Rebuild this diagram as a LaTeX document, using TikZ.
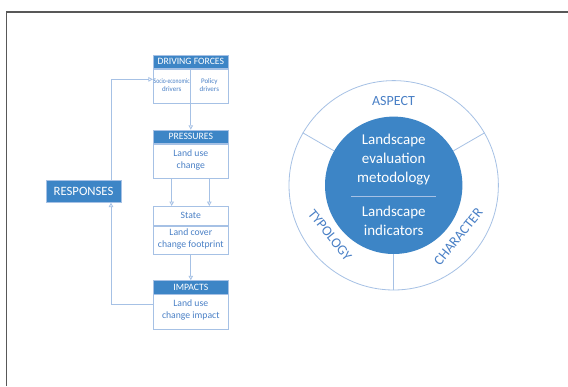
\documentclass[tikz,border=0pt]{standalone}
\usepackage{fontspec}
\setmainfont{Carlito}
\usetikzlibrary{arrows.meta,calc}
\definecolor{hblue}{HTML}{3D85C6}
\definecolor{tblue}{HTML}{4A80C6}
\definecolor{lblue}{HTML}{A6C1E5}
\definecolor{frame}{HTML}{585858}
\tikzset{
  hdr/.style={rectangle, fill=hblue, draw=lblue, line width=0.6pt, text=white, minimum width=75pt, minimum height=13.3pt, inner sep=0pt, font=\fontsize{9.7}{11}\selectfont},
  bodybox/.style={rectangle, draw=lblue, line width=0.8pt, fill=white, minimum width=75pt, inner sep=0pt, anchor=north},
  btxt/.style={text=tblue, align=center, inner sep=0pt, font=\fontsize{9.7}{11.7}\selectfont},
  stxt/.style={text=tblue, align=center, inner sep=0pt, font=\fontsize{7}{8.6}\selectfont},
  arr/.style={draw=lblue, line width=0.8pt, -{Triangle[open,length=4.5pt,width=4.5pt]}},
  ringtxt/.style={text=tblue, inner sep=0pt, font=\fontsize{14}{16}\selectfont},
}
\begin{document}
\begin{tikzpicture}[x=1pt,y=-1pt]
\useasboundingbox (0,0) rectangle (568,386);
\fill[white] (0,0) rectangle (568,386);
% frame
\draw[frame, line width=1.6pt] (6.5,386) -- (6.5,12) -- (568,12);

% DRIVING FORCES
\node[hdr] (df) at (190.8,61.7) {DRIVING FORCES};
\node[bodybox, minimum height=34.4pt] (dfb) at (df.south) {};
\node[stxt] (se) at (171.7,85) {\scalebox{0.8}[1]{Socio-economic}\\drivers};
\node[stxt] (pd) at (209.3,85) {Policy\\drivers};

% PRESSURES
\node[hdr] (pr) at (190.8,136.7) {PRESSURES};
\node[bodybox, minimum height=34pt] (prb) at (pr.south) {};
\node[btxt] (prt) at (190.8,160) {Land use\\change};

% STATE
\node[bodybox, minimum height=18.7pt] (st) at (190.8,206) {};
\node[btxt] (stt) at (st.center) {State};
\node[bodybox, minimum height=28.3pt] (stb) at (st.south) {};
\node[btxt] (stbt) at (190.8,238.7) {Land cover\\change footprint};

% IMPACTS
\node[hdr] (ip) at (190.8,287.2) {IMPACTS};
\node[bodybox, minimum height=34.6pt] (ipb) at (ip.south) {};
\node[btxt] (ipt) at (190.8,309.9) {Land use\\change impact};

% RESPONSES
\node[hdr, minimum height=21.6pt, font=\fontsize{12.7}{14}\selectfont] (rs) at (83.5,191.5) {RESPONSES};

% connectors
\draw[draw=lblue, line width=0.8pt] (df.south) -- (dfb.south);
\draw[arr] (dfb.south) -- (pr.north);
\draw[arr] ($(prb.south)+(-19.1,0)$) -- ($(st.north)+(-19.1,0)$);
\draw[arr] ($(prb.south)+(18.5,0)$) -- ($(st.north)+(18.5,0)$);
\draw[arr] (stb.south) -- (ip.north);
\draw[arr] ($(ipb.north west)+(0,10.3)$) -| ($(rs.south east)+(-10.3,0)$);
\draw[arr] ($(rs.north east)+(-10.3,0)$) |- ($(dfb.north west)+(0,10.7)$);

% circle diagram
\node[circle, draw=lblue, line width=0.8pt, minimum size=209.4pt, inner sep=0pt] (outer) at (393.7,185.3) {};
\node[circle, fill=hblue, minimum size=137.4pt, inner sep=0pt] (inner) at (393.7,185.3) {};
\draw[lblue, line width=0.8pt] (outer.30) -- (inner.30);
\draw[lblue, line width=0.8pt] (outer.150) -- (inner.150);
\draw[lblue, line width=0.8pt] (outer.270) -- (inner.270);
\node[ringtxt] (asp) at (393.5,100.7) {ASPECT};
\node[ringtxt, rotate=-51] (typ) at (330,235) {TYPOLOGY};
\node[ringtxt, rotate=51] (chr) at (458.3,236.7) {CHARACTER};
\node[text=white, align=center, inner sep=0pt, font=\fontsize{15}{19}\selectfont] (lem) at (393.7,159.3) {Landscape\\evaluation\\metodology};
\draw[lblue, line width=0.8pt] (351,196) -- (435.7,196);
\node[text=white, align=center, inner sep=0pt, font=\fontsize{15}{19}\selectfont] (li) at (393.7,221.2) {Landscape\\indicators};
\end{tikzpicture}
\end{document}
